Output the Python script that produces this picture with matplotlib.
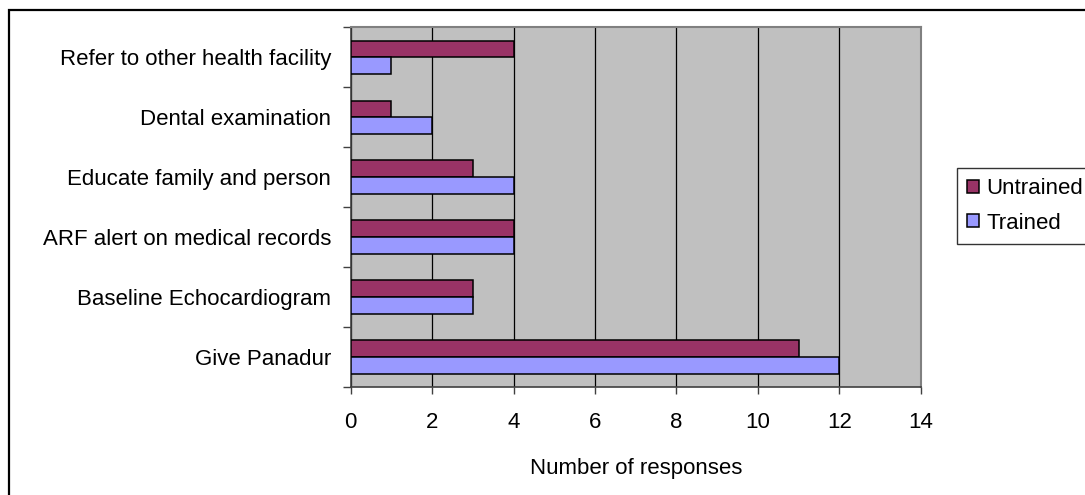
import matplotlib
matplotlib.use("Agg")
import matplotlib.pyplot as plt
from matplotlib.patches import Rectangle
import numpy as np

plt.rcParams['font.family'] = ['Liberation Sans', 'DejaVu Sans']

# Survey responses, listed bottom to top
categories = ["Give Panadur", "Baseline Echocardiogram", "ARF alert on medical records",
              "Educate family and person", "Dental examination", "Refer to other health facility"]
untrained = [11, 3, 4, 3, 1, 4]
trained = [12, 3, 4, 4, 2, 1]
x_ticks = [0, 2, 4, 6, 8, 10, 12, 14]
x_label = "Number of responses"

W, H = 1085, 495
fig = plt.figure(figsize=(W / 100, H / 100), dpi=100)
fig.patch.set_facecolor("white")

ax = fig.add_axes([350.7 / W, 1 - 386.7 / H, (920.7 - 350.7) / W, (386.7 - 27.5) / H])
ax.set_facecolor("#C0C0C0")

y = np.arange(len(categories))
bh = 0.28
off = 0.14
ax.barh(y + off, untrained, height=bh, color="#993366", edgecolor="black",
        linewidth=1.1, label="Untrained", zorder=3)
ax.barh(y - off, trained, height=bh, color="#9999FF", edgecolor="black",
        linewidth=1.1, label="Trained", zorder=3)

ax.set_xlim(0, 14)
ax.set_ylim(-0.5, len(categories) - 0.5)
ax.set_xticks(x_ticks)
ax.set_xticklabels([str(t) for t in x_ticks], fontsize=16)
ax.xaxis.grid(True, color="black", linewidth=0.9, zorder=1)
ax.set_axisbelow(True)

# category labels centred, tick marks on the category boundaries
ax.set_yticks(y)
ax.set_yticklabels(categories, fontsize=16)
ax.tick_params(axis="y", which="major", length=0, pad=14)
ax.set_yticks(np.arange(-0.5, len(categories), 1.0), minor=True)
ax.tick_params(axis="y", which="minor", length=6, width=1, color="#404040", direction="out")
ax.tick_params(axis="x", length=5, width=1, color="#404040", direction="out", pad=13)

ax.set_xlabel(x_label, fontsize=16, labelpad=18)

for side in ("top", "right"):
    ax.spines[side].set_color("#808080")
    ax.spines[side].set_linewidth(1.5)
for side in ("left", "bottom"):
    ax.spines[side].set_color("#404040")
    ax.spines[side].set_linewidth(1.2)

handles, labels = ax.get_legend_handles_labels()
leg = fig.legend(handles, labels, loc="upper left",
                 bbox_to_anchor=(956.7 / W, 1 - 168.3 / H), bbox_transform=fig.transFigure,
                 fontsize=16, frameon=True, fancybox=False, borderaxespad=0,
                 handlelength=0.55, handleheight=0.55, handletextpad=0.35,
                 borderpad=0.45, labelspacing=0.6)
leg.get_frame().set_edgecolor("black")
leg.get_frame().set_linewidth(1.0)

# outer chart frame
fig.add_artist(Rectangle((8.5 / W, -0.1), 1.2, 1 - 9.5 / H + 0.1, transform=fig.transFigure,
                         fill=False, edgecolor="black", linewidth=1.6))

fig.savefig("out.png", dpi=100, facecolor="white")
